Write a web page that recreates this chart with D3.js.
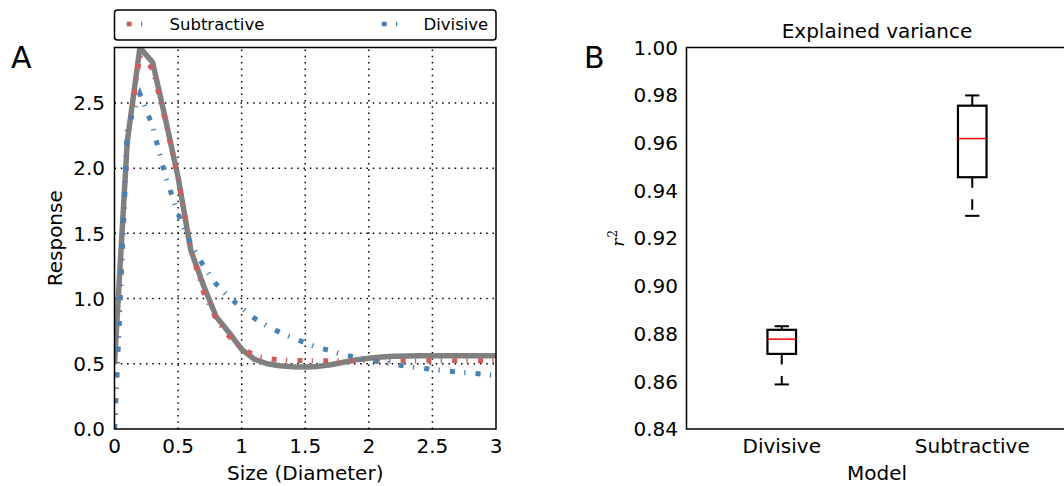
<!DOCTYPE html>
<html>
<head>
<meta charset="utf-8">
<script src="https://cdn.jsdelivr.net/npm/d3@7"></script>
<style>
  body { margin: 0; background: #fff; }
  svg text { font-family: "DejaVu Sans", sans-serif; fill: #000; }
</style>
</head>
<body>
<svg id="chart" width="1064" height="486"></svg>
<script>
// ---------- data ----------
const sizes = [0.0,0.1,0.2,0.3,0.4,0.5,0.6,0.7,0.8,0.9,1.0,1.1,1.2,1.3,1.4,1.5,1.6,1.7,1.8,1.9,2.0,2.1,2.2,2.3,2.4,2.5,2.6,2.7,2.8,2.9,3.0];
const dataResponse = [0.50,2.20,2.925,2.81,2.38,1.93,1.37,1.10,0.86,0.74,0.61,0.535,0.50,0.485,0.477,0.475,0.480,0.493,0.512,0.530,0.543,0.552,0.557,0.560,0.561,0.561,0.561,0.561,0.561,0.561,0.561];
const subtractiveFit = [0.0,2.20,2.86,2.76,2.36,1.92,1.38,1.05,0.84,0.71,0.62,0.565,0.54,0.53,0.526,0.524,0.524,0.524,0.524,0.524,0.524,0.524,0.524,0.524,0.524,0.524,0.524,0.524,0.524,0.524,0.524];
const divisiveFit = [0.0,2.30,2.57,2.32,1.94,1.65,1.42,1.25,1.11,1.01,0.93,0.85,0.79,0.74,0.70,0.66,0.625,0.60,0.57,0.55,0.53,0.51,0.495,0.48,0.468,0.457,0.447,0.437,0.428,0.42,0.41];
const xTicksA = [0,0.5,1,1.5,2,2.5,3];
const xTickLabelsA = ["0","0.5","1","1.5","2","2.5","3"];
const yTicksA = [0,0.5,1,1.5,2,2.5];
const yTickLabelsA = ["0.0","0.5","1.0","1.5","2.0","2.5"];

const models = ["Divisive","Subtractive"];
const boxLowerWhisker = [0.8587,0.9294];
const boxQ1 = [0.8715,0.9456];
const boxMedian = [0.8777,0.9618];
const boxQ3 = [0.8816,0.9756];
const boxUpperWhisker = [0.8831,0.9799];
const yTicksB = [0.84,0.86,0.88,0.90,0.92,0.94,0.96,0.98,1.00];

const colors = { data: "#808080", sub: "#cd5c5c", div: "#4682b4" };

// ---------- layout ----------
const svg = d3.select("#chart");
const A = { left: 114.5, right: 496, top: 47.5, bottom: 429 };
const B = { left: 686.5, right: 1067.5, top: 47.5, bottom: 429 };
const fitDash = "5,9.3,1.3,10.2";
const gridDash = "1.5,4.8";

// ===== Panel A =====
const xA = d3.scaleLinear().domain([0,3]).range([A.left, A.right]);
const yA = d3.scaleLinear().domain([0, d3.max(dataResponse)]).range([A.bottom, A.top]);

svg.append("clipPath").attr("id","clipA").append("rect")
  .attr("x",A.left).attr("y",A.top).attr("width",A.right-A.left).attr("height",A.bottom-A.top);

// grid
const gA = svg.append("g");
gA.selectAll(".vg").data(xTicksA.slice(1,-1)).join("line")
  .attr("x1",d=>xA(d)).attr("x2",d=>xA(d)).attr("y1",A.bottom).attr("y2",A.top)
  .attr("stroke","#000").attr("stroke-width",1.5).attr("stroke-dasharray",gridDash);
gA.selectAll(".hg").data(yTicksA.slice(1)).join("line")
  .attr("y1",d=>yA(d)).attr("y2",d=>yA(d)).attr("x1",A.left).attr("x2",A.right)
  .attr("stroke","#000").attr("stroke-width",1.5).attr("stroke-dasharray",gridDash);

const lineA = (vals) => d3.line().x((d,i)=>xA(sizes[i])).y(d=>yA(d))(vals);
const linesG = svg.append("g").attr("clip-path","url(#clipA)");
linesG.append("path").attr("d", lineA(dataResponse)).attr("fill","none")
  .attr("stroke",colors.data).attr("stroke-width",5.5).attr("stroke-linejoin","round");
linesG.append("path").attr("d", lineA(subtractiveFit)).attr("fill","none")
  .attr("stroke",colors.sub).attr("stroke-width",5).attr("stroke-dasharray",fitDash);
linesG.append("path").attr("d", lineA(divisiveFit)).attr("fill","none")
  .attr("stroke",colors.div).attr("stroke-width",5).attr("stroke-dasharray",fitDash);

// frame
svg.append("rect").attr("x",A.left).attr("y",A.top).attr("width",A.right-A.left).attr("height",A.bottom-A.top)
  .attr("fill","none").attr("stroke","#000").attr("stroke-width",1.5);

// ticks labels
svg.append("g").selectAll("text").data(xTicksA).join("text")
  .attr("x",d=>xA(d)).attr("y",452.5).attr("text-anchor","middle").attr("font-size",20)
  .text((d,i)=>xTickLabelsA[i]);
svg.append("g").selectAll("text").data(yTicksA).join("text")
  .attr("x",A.left-9.5).attr("y",d=>yA(d)).attr("dy","0.36em").attr("text-anchor","end").attr("font-size",20)
  .text((d,i)=>yTickLabelsA[i]);

svg.append("text").attr("x",(A.left+A.right)/2).attr("y",480).attr("text-anchor","middle")
  .attr("font-size",20).text("Size (Diameter)");
svg.append("text").attr("transform",`translate(62,${(A.top+A.bottom)/2}) rotate(-90)`)
  .attr("text-anchor","middle").attr("font-size",20).text("Response");
svg.append("text").attr("x",11).attr("y",68).attr("font-size",30).text("A");

// legend
const leg = svg.append("g");
leg.append("rect").attr("x",114.5).attr("y",10).attr("width",381.5).attr("height",30).attr("rx",3)
  .attr("fill","#fff").attr("stroke","#000").attr("stroke-width",1.5);
const legItems = [
  { label: "Subtractive", color: colors.sub, hx: 126.7, tx: 169.5 },
  { label: "Divisive", color: colors.div, hx: 381.7, tx: 423.5 }
];
legItems.forEach(it => {
  leg.append("line").attr("x1",it.hx).attr("x2",it.hx+20).attr("y1",24).attr("y2",24)
    .attr("stroke",it.color).attr("stroke-width",4.5).attr("stroke-dasharray",fitDash);
  leg.append("text").attr("x",it.tx).attr("y",24).attr("dy","0.36em").attr("font-size",16.5).text(it.label);
});

// ===== Panel B =====
const xB = d3.scaleLinear().domain([0.5,2.5]).range([B.left, B.right]);
const yB = d3.scaleLinear().domain([0.84,1.0]).range([B.bottom, B.top]);
const boxW = 0.15;

svg.append("rect").attr("x",B.left).attr("y",B.top).attr("width",B.right-B.left).attr("height",B.bottom-B.top)
  .attr("fill","none").attr("stroke","#000").attr("stroke-width",1.5);

svg.append("g").selectAll("text").data(yTicksB).join("text")
  .attr("x",B.left-8.5).attr("y",d=>yB(d)).attr("dy","0.36em").attr("text-anchor","end").attr("font-size",20)
  .text(d=>d.toFixed(2));
svg.append("g").selectAll("text").data(models).join("text")
  .attr("x",(d,i)=>xB(i+1)).attr("y",452.5).attr("text-anchor","middle").attr("font-size",20).text(d=>d);

svg.append("text").attr("x",(B.left+B.right)/2).attr("y",480).attr("text-anchor","middle")
  .attr("font-size",20).text("Model");
svg.append("text").attr("x",(B.left+B.right)/2).attr("y",38).attr("text-anchor","middle")
  .attr("font-size",20).text("Explained variance");
svg.append("text").attr("x",584).attr("y",68).attr("font-size",30).text("B");

const rl = svg.append("text").attr("transform",`translate(624,${(B.top+B.bottom)/2}) rotate(-90)`)
  .attr("text-anchor","middle").style("font-family","'DejaVu Serif', serif").attr("font-size",17);
rl.append("tspan").attr("font-style","italic").text("r");
rl.append("tspan").attr("dy",-7).attr("dx",1).attr("font-size",12).text("2");

const boxes = svg.append("g");
models.forEach((m,i) => {
  const cx = xB(i+1);
  const hw = (xB(i+1+boxW/2) - xB(i+1));
  boxes.append("line").attr("x1",cx).attr("x2",cx).attr("y1",yB(boxQ1[i])).attr("y2",yB(boxLowerWhisker[i]))
    .attr("stroke","#000").attr("stroke-width",2).attr("stroke-dasharray","10.5,11.5");
  boxes.append("line").attr("x1",cx).attr("x2",cx).attr("y1",yB(boxQ3[i])).attr("y2",yB(boxUpperWhisker[i]))
    .attr("stroke","#000").attr("stroke-width",2).attr("stroke-dasharray","10.5,11.5");
  [boxLowerWhisker[i], boxUpperWhisker[i]].forEach(v => {
    boxes.append("line").attr("x1",cx-hw/2).attr("x2",cx+hw/2).attr("y1",yB(v)).attr("y2",yB(v))
      .attr("stroke","#000").attr("stroke-width",2);
  });
  boxes.append("rect").attr("x",cx-hw).attr("y",yB(boxQ3[i])).attr("width",2*hw)
    .attr("height",yB(boxQ1[i])-yB(boxQ3[i])).attr("fill","none").attr("stroke","#000").attr("stroke-width",2.2);
  boxes.append("line").attr("x1",cx-hw).attr("x2",cx+hw).attr("y1",yB(boxMedian[i])).attr("y2",yB(boxMedian[i]))
    .attr("stroke","#ff0000").attr("stroke-width",1.5);
});
</script>
</body>
</html>
